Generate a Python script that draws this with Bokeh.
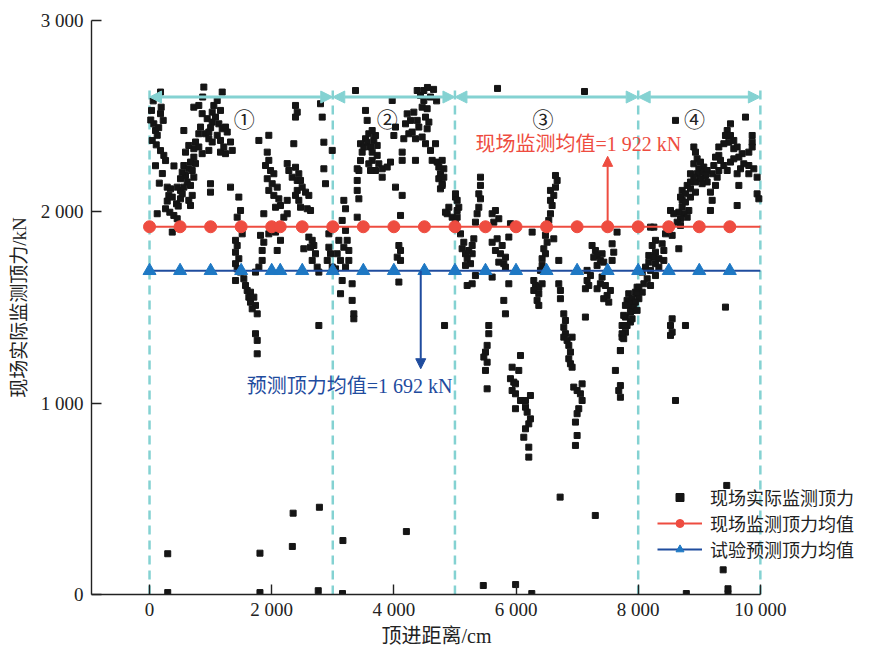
from bokeh.plotting import figure
from bokeh.models import Range1d, FixedTicker, Arrow, NormalHead, Legend, LegendItem, Title
from bokeh.core.properties import value
from bokeh.embed import file_html
from bokeh.resources import INLINE

# ---------------- data ----------------
# field-measured jacking force, (distance cm, force kN), by zone
seg1 = [(33,2530),(70,2460),(98,2425),(126,2400),(44,2373),(180,2513),(224,2478),(191,2547),(180,2626),(98,2241),
        (180,2320),(234,2295),(262,2268),(290,2129),(344,2120),(316,2086),(290,2056),(372,2077),(262,2016),(332,1998),
        (398,1981),(453,1964),(442,2042),(507,2068),(507,2112),(126,1990),(372,1894),(562,2425),(725,2547),(807,2556),
        (862,2513),(889,2652),(944,2487),(1026,2521),(1053,2556),(1080,2495),(1108,2582),(1162,2530),(1190,2626),(1135,2460),
        (1190,2434),(1244,2443),(1272,2417),(1026,2469),(835,2443),(807,2408),(917,2408),(971,2382),(1026,2365),(971,2417),
        (1108,2400),(1162,2373),(753,2365),(725,2330),(643,2347),(589,2312),(807,2339),(862,2304),(725,2286),(671,2260),
        (753,2252),(562,2242),(643,2225),(699,2216),(725,2181),(589,2190),(535,2207),(507,2173),(617,2156),(562,2129),
        (671,2138),(453,2129),(535,2094),(699,2086),(671,2033),(643,2060),(971,2321),(1162,2312),(1216,2339),(1326,2365),
        (1354,2321),(1244,2304),(998,2147),(998,2103),(1326,2129),(1462,2077),(1490,2007),(1435,1972),(1790,2373),(1953,2400),
        (1927,2312),(1953,2269),(1899,2242),(1981,2216),(2035,2199),(1927,2173),(2008,2147),(2090,2129),(1953,2112),(2035,2086),
        (2117,2068),(2144,2033),(2063,2024),(1871,1990),(2199,1972),(2254,2252),(2281,2216),(2336,2181),(2390,2233),(2362,2356),
        (2390,2495),(2390,2556),(2418,2164),(2418,2112),(2390,2086),(2444,2060),(2472,2024),(2254,1990),(2254,2060),(1408,1851),
        (1435,1824),(1408,1789),(1462,1755),(1408,1729),(1435,1702),(1490,1685),(1408,1641),(1544,1650),(1571,1615),(1599,1589),
        (1653,1580),(1626,1554),(1708,1554),(1653,1528),(1735,1511),(1681,1493),(1763,1467),(1735,1363),(1763,1328),(1763,1258),
        (1517,1885),(1817,1877),(1871,1841),(1844,1798),(1844,1746),(1790,1711),(1735,1685),(1953,1885),(2144,1851),(2090,1798),
        (2526,1807),(2063,1894),(2418,2521),(2799,2565),(2827,2495),(2854,2364),(2854,2225),(2881,2147),(2444,2199),(2472,2164),
        (2499,2129),(2554,2103),(2608,2086),(2581,2016),(2636,2007),(2608,1868),(2663,1851),(2690,1824),(2636,1815),(2717,1781),
        (2663,1746),(2745,1711),(2772,1685),(2772,1406),(2991,2321),(2936,1885),(2936,1815),(2963,1781),(2909,1746),(2991,1711),
        (60,2580),(20,2480),(150,2440),(110,2350),(210,2200),(160,2150),(400,2240),(470,2030),(870,2600),(1000,2440)]
seg2 = [(3045,1702),(3181,2060),(3209,2016),(3154,1955),(3209,1903),(3099,1851),(3236,1851),(3181,1815),(3072,1781),(3263,1798),
        (3127,1746),(3263,1746),(3209,1711),(3154,1641),(3317,1624),(3127,1572),(3317,1537),(3345,1467),(3345,1441),(3372,2634),
        (3400,2164),(3427,2216),(3400,2225),(3454,2268),(3481,2312),(3454,2356),(3536,2382),(3509,2339),(3563,2364),(3590,2408),
        (3618,2339),(3645,2312),(3672,2373),(3700,2399),(3727,2347),(3645,2269),(3590,2251),(3727,2295),(3754,2251),(3700,2216),
        (3809,2225),(3618,2216),(3809,2181),(3891,2234),(3945,2260),(3536,2530),(3563,2478),(3645,2425),(3973,2582),(4000,2399),
        (4027,2443),(4136,2312),(4136,2269),(4191,2460),(4218,2512),(4273,2478),(4245,2408),(4163,2382),(4300,2417),(4327,2521),
        (4382,2478),(4409,2443),(4354,2382),(4463,2391),(4354,2269),(4382,2634),(4436,2608),(4491,2582),(4491,2634),(4463,2547),
        (4545,2539),(4518,2495),(4573,2469),(4545,2434),(4518,2356),(4600,2321),(4682,2356),(4627,2269),(4709,2260),(4791,2269),
        (4736,2234),(4763,2199),(4818,2225),(4736,2173),(4791,2147),(4763,2120),(3400,2112),(3427,2068),(3400,1972),(4027,2129),
        (4136,2086),(4109,1981),(4082,1824),(4109,1798),(4055,1763),(4109,1746),(4082,1633),(4900,2024),(4873,1990),(4955,1972),
        (4830,1406),(4818,2181),(4791,2138),(4845,1998),(4600,2600),(4650,2640),(4550,2650),(4700,2580)]
seg3 = [(5009,2077),(5036,2007),(5009,1938),(5009,2094),(5036,2060),(5063,2024),(5036,1972),(5091,1885),(5145,1841),(5118,1807),
        (5173,1781),(5200,1755),(5227,1798),(5282,1824),(5309,1859),(5282,1781),(5255,1729),(5173,1720),(5282,1624),(5200,1615),
        (5336,1667),(5336,1946),(5363,1990),(5391,2024),(5418,2068),(5391,2094),(5418,2138),(5418,2181),(5609,1990),(5663,2007),
        (5718,1964),(5636,1946),(5609,1841),(5691,1859),(5773,1824),(5663,1798),(5745,1781),(5827,1763),(5800,1729),(5718,1737),
        (5827,1711),(5882,1868),(5909,1938),(5609,1659),(5882,1624),(5800,1537),(5827,1467),(5554,1406),(5554,1363),(5527,1302),
        (5500,1267),(5473,1241),(5527,1214),(5500,1171),(5527,1075),(6073,1249),(5936,1188),(6045,1171),(5909,1128),(5963,1110),
        (5991,1101),(5936,1066),(5991,1049),(6236,1040),(6073,1014),(6155,1014),(5991,971),(6155,979),(6182,953),(6236,918),
        (6209,892),(6155,866),(6127,822),(6209,770),(6209,718),(6646,2190),(6673,2164),(6646,2129),(6564,2112),(6618,2086),
        (6564,2060),(6591,2033),(6564,1990),(6536,1955),(6482,1877),(6618,1859),(6509,1841),(6455,1807),(6482,1781),(6427,1755),
        (6427,1720),(6400,1694),(6291,1641),(6318,1615),(6373,1606),(6291,1589),(6373,1572),(6345,1537),(6373,1511),(6264,1894),
        (6700,1746),(6700,1624),(6727,1589),(6727,1546),(6782,1467),(6809,1432),(6782,1397),(6809,1363),(6782,1345),(6836,1328),
        (6918,1345),(6864,1302),(6891,1267),(6864,1232),(6891,1206),(6918,1188),(7136,1450),(6945,1084),(7000,1066),(7082,1101),
        (7054,1049),(7082,1014),(7027,971),(7000,945),(6973,901),(7000,831),(6973,779),(7245,1824),(7300,1798),(7327,1772),
        (7273,1763),(7381,1746),(7327,1720),(7436,1737),(7409,1781),(7573,1833),(7600,1789),(7573,1746),(7654,1894),(7163,1694),
        (7218,1667),(7163,1641),(7191,1615),(7136,1598),(7409,1659),(7381,1624),(7463,1615),(7327,1598),(7491,1563),(7436,1546),
        (7518,1528),(7545,1589),(7791,1450),(7736,1406),(7791,1371),(7736,1345),(7709,1275),(7627,1171),(7709,1092),(7682,1066),
        (7709,1031),(7818,1537),(7873,1511),(7927,1528),(7900,1485),(7845,1572),(7954,1580),(7982,1606),(7873,1424),(7818,1406),
        (6427,1624),(5697,2645),(7121,2629)]
seg4 = [(8611,2478),(9757,2495),(9511,2460),(9457,2425),(9429,2399),(9511,2399),(9565,2373),(9484,2364),(9402,2356),(9320,2339),
        (9565,2330),(9620,2339),(9866,2399),(9866,2364),(9866,2339),(9811,2312),(9702,2304),(9648,2286),(9565,2277),(9511,2260),
        (9729,2251),(9811,2242),(9893,2225),(9675,2225),(9620,2199),(9811,2199),(9947,2181),(9648,2138),(9947,2094),(9975,2068),
        (9620,2033),(9320,2295),(9266,2286),(9347,2269),(9402,2242),(9238,2242),(9320,2216),(9457,2216),(9293,2181),(9211,2199),
        (9266,2138),(9183,2103),(9211,2060),(9183,2007),(8911,2339),(8938,2312),(8965,2277),(8911,2251),(9020,2260),(9074,2234),
        (8993,2225),(9047,2207),(8965,2199),(9129,2216),(9102,2190),(9020,2173),(9129,2156),(9047,2147),(8938,2156),(8911,2181),
        (8856,2199),(8856,2156),(8802,2138),(8720,2112),(8856,2120),(8938,2103),(8774,2094),(8693,2077),(8856,2077),(8720,2060),
        (8774,2051),(8720,2025),(8829,2007),(8747,1990),(8665,1998),(8802,1972),(8693,1964),(8638,1946),(8529,2007),(8583,1990),
        (8693,1929),(8502,1903),(8447,1885),(8556,1877),(8665,1807),(8256,1920),(8283,1851),(8229,1824),(8392,1833),(8420,1798),
        (8283,1789),(8174,1772),(8256,1763),(8338,1755),(8420,1746),(8174,1737),(8283,1729),(8120,1711),(8338,1711),(8202,1694),
        (8066,1685),(8283,1667),(8147,1650),(8093,1624),(8202,1615),(8011,1606),(8066,1580),(7982,1572),(7900,1546),(8011,1546),
        (7954,1528),(7845,1520),(7791,1511),(7927,1502),(7873,1476),(7982,1485),(7763,1459),(7900,1441),(7791,1406),(7736,1363),
        (7763,1337),(7709,1275),(8556,1441),(8529,1406),(8556,1371),(8529,1354),(8774,1406),(9429,1502),(8611,1014),(8202,1920)]
low_pts = [(298,213),(298,10),(1808,216),(1808,10),(2338,251),(2351,425),(2781,456),(2762,20),(3166,282),(3159,5),
           (4205,329),(5464,47),(5993,52),(6258,5),(6722,509),(7298,413),(8788,5),(9450,570),(9391,129),(9470,30),(9470,5)]

mean_monitor = 1922          # kN, field-monitored mean
mean_predict = 1692          # kN, predicted mean
mean_marker_x = [0, 500, 1000, 1500, 2000, 2140, 2500, 3000, 3500, 4000, 4500, 5000,
                 5500, 6000, 6500, 7000, 7500, 8000, 8500, 9000, 9500]
zone_bounds = [0, 3000, 5000, 8000, 10000]
zone_labels = ["①", "②", "③", "④"]
legend_labels = ["现场实际监测顶力", "现场监测顶力均值", "试验预测顶力均值"]
x_ticks = [0, 2000, 4000, 6000, 8000, 10000]
y_ticks = [0, 1000, 2000, 3000]

def fmt(v):
    return f"{v:,}".replace(",", " ")

pts = seg1 + seg2 + seg3 + seg4 + low_pts
dist = [a for a, b in pts]
force = [b for a, b in pts]

# ---------------- styling ----------------
RED = "#EE4C40"
BLUE_LINE = "#1F4C9E"
BLUE_MK = "#1E78C4"
CYAN = "#84D2D2"
SERIF = "Liberation Serif, Noto Sans CJK SC"
CJK = "Noto Sans CJK SC"

# frame spans to the right edge of the page so the legend is not clipped;
# the x axis line itself stops at 10 000 (axis bounds)
p = figure(width=875, height=646, x_range=Range1d(-950, 11885), y_range=Range1d(0, 3000),
           output_backend="svg", toolbar_location=None,
           min_border_left=91, min_border_right=0, min_border_top=20, min_border_bottom=52)
p.outline_line_color = None
p.xgrid.grid_line_color = None
p.ygrid.grid_line_color = None
p.background_fill_color = "white"
p.border_fill_color = "white"

for ax in (p.xaxis[0], p.yaxis[0]):
    ax.axis_line_color = "#222222"
    ax.axis_line_width = 1.4
    ax.major_tick_line_color = "#222222"
    ax.major_tick_line_width = 1.4
    ax.major_tick_in = 10
    ax.major_tick_out = 0
    ax.minor_tick_line_color = None
    ax.major_label_text_font = SERIF
    ax.major_label_text_font_size = "19px"
    ax.major_label_text_color = "#222222"
    ax.axis_label_text_font = SERIF
    ax.axis_label_text_font_size = "19px"
    ax.axis_label_text_font_style = "normal"
    ax.axis_label_text_color = "#222222"

p.xaxis.bounds = (-950, 10000)
p.xaxis.ticker = FixedTicker(ticks=x_ticks)
p.xaxis.major_label_overrides = {t: fmt(t) for t in x_ticks}
p.xaxis.major_label_standoff = 4
p.yaxis.ticker = FixedTicker(ticks=y_ticks)
p.yaxis.major_label_overrides = {t: fmt(t) for t in y_ticks}
p.yaxis.axis_label = "现场实际监测顶力/kN"
p.yaxis.major_label_standoff = 8
p.yaxis.axis_label_standoff = 8

# x axis title, placed under the axis (centred on the 0-10 000 span, not the whole frame)
p.add_layout(Title(text="顶进距离/cm", align="left", offset=290, standoff=0,
                   text_font=SERIF, text_font_size="20px", text_font_style="normal",
                   text_color="#222222"), "below")

# zone dividers
p.segment(x0=zone_bounds, y0=[0] * len(zone_bounds), x1=zone_bounds, y1=[2650] * len(zone_bounds),
          line_color=CYAN, line_width=2.5, line_dash="9 6")
for i in range(len(zone_bounds) - 1):
    p.add_layout(Arrow(x_start=zone_bounds[i], y_start=2600, x_end=zone_bounds[i + 1], y_end=2600,
                       start=NormalHead(size=12, fill_color=CYAN, line_color=CYAN),
                       end=NormalHead(size=12, fill_color=CYAN, line_color=CYAN),
                       line_color=CYAN, line_width=3))
p.text(x=[1550, 3890, 6440, 8920], y=[2493] * 4, text=zone_labels, text_align="center",
       text_baseline="middle", text_font=value(CJK), text_font_size=value("21px"), text_color="#222222")

# scatter
sc = p.scatter(dist, force, marker="square", size=6, color="#151515")

# mean lines
rl = p.line([0, 10000], [mean_monitor, mean_monitor], line_color=RED, line_width=2.2)
rm = p.scatter(mean_marker_x, [mean_monitor] * len(mean_marker_x), marker="circle", size=12,
               fill_color=RED, line_color=RED)
bl = p.line([0, 10000], [mean_predict, mean_predict], line_color=BLUE_LINE, line_width=2.2)
bm = p.scatter(mean_marker_x, [mean_predict] * len(mean_marker_x), marker="triangle", size=13,
               fill_color=BLUE_MK, line_color=BLUE_MK)

# annotation arrows and texts
p.add_layout(Arrow(x_start=7500, y_start=mean_monitor, x_end=7500, y_end=2290,
                   end=NormalHead(size=10, fill_color=RED, line_color=RED), line_color=RED, line_width=2))
p.add_layout(Arrow(x_start=4440, y_start=mean_predict, x_end=4440, y_end=1180,
                   end=NormalHead(size=10, fill_color=BLUE_LINE, line_color=BLUE_LINE),
                   line_color=BLUE_LINE, line_width=2))
p.text(x=[7020], y=[2357], text=["现场监测均值=" + fmt(mean_monitor) + " kN"], text_align="center",
       text_baseline="middle", text_font=value(SERIF), text_font_size=value("20px"), text_color=RED)
p.text(x=[3275], y=[1092], text=["预测顶力均值=" + fmt(mean_predict) + " kN"], text_align="center",
       text_baseline="middle", text_font=value(SERIF), text_font_size=value("20px"), text_color=BLUE_LINE)

# legend: one row per Legend so the row pitch can be set tightly
legend_rows = [(legend_labels[0], [sc], 84), (legend_labels[1], [rl, rm], 58), (legend_labels[2], [bl, bm], 32)]
for label, rends, ypos in legend_rows:
    lg = Legend(items=[LegendItem(label=label, renderers=rends)],
                location=(566, ypos), border_line_color=None, background_fill_alpha=0,
                label_text_font=CJK, label_text_font_size="18px", label_text_color="#222222",
                glyph_width=45, glyph_height=20, label_height=20, label_standoff=8,
                spacing=0, padding=0, margin=0)
    p.add_layout(lg)

open("out.html", "w").write(file_html(p, INLINE))
